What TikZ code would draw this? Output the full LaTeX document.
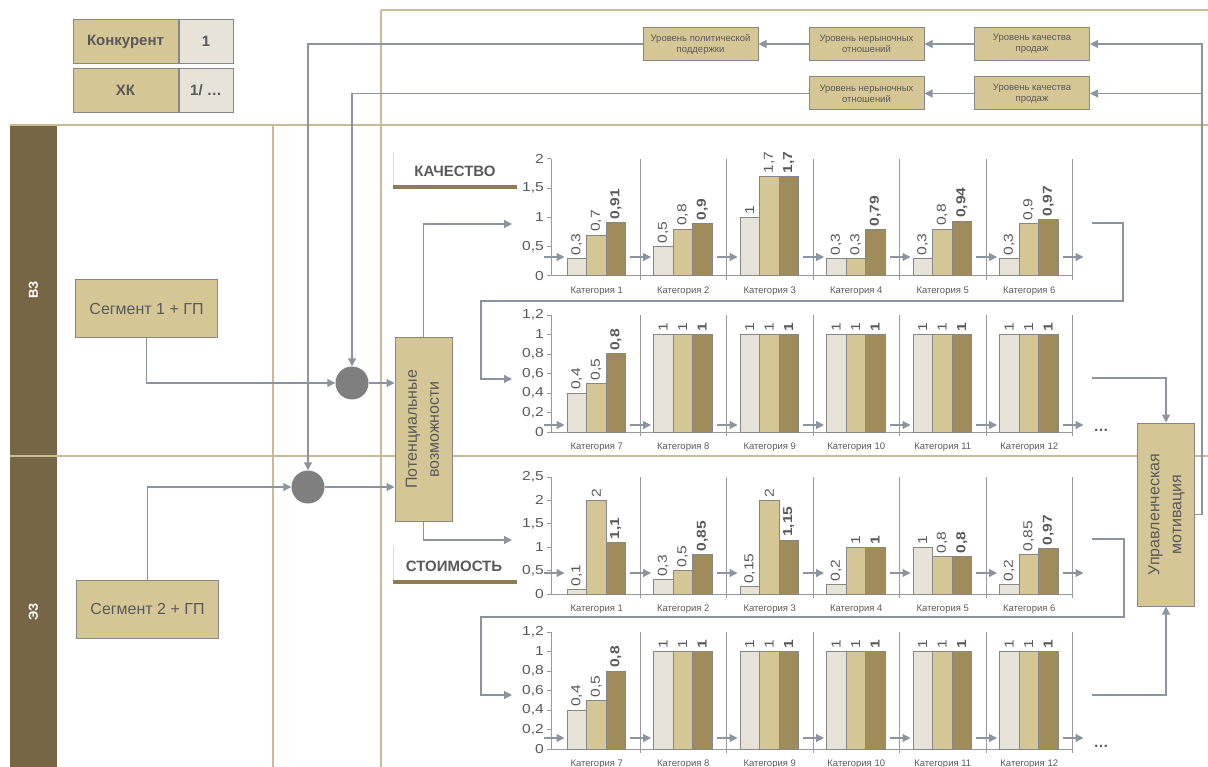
\documentclass[tikz,border=0pt]{standalone}
\usepackage{fontspec}
\setmainfont{Liberation Sans}
\newfontfamily\chartfont[FakeStretch=1.2]{Liberation Sans}
\usepackage{graphicx}
\usetikzlibrary{arrows.meta,positioning}

\definecolor{frameline}{HTML}{C9BB98}
\definecolor{boxfill}{HTML}{D4C795}
\definecolor{lightfill}{HTML}{E7E3D9}
\definecolor{darkfill}{HTML}{A08B5B}
\definecolor{bandfill}{HTML}{776645}
\definecolor{tabfill}{HTML}{8F7C57}
\definecolor{linkgray}{HTML}{8C959F}
\definecolor{boxedge}{HTML}{878787}
\definecolor{axisgray}{HTML}{9A9A9A}
\definecolor{jointfill}{HTML}{7F7F7F}
\definecolor{textgray}{HTML}{595959}

\pgfkeys{/pgf/number format/.cd, use comma, assume math mode=true}

\tikzset{
	every box/.style={
		draw=boxedge,
		fill=boxfill,
		line width=1pt,
		text=textgray,
		align=center,
		inner sep=0pt
	},
	level box/.style={
		every box,
		minimum width=115,
		minimum height=33,
		font=\fontsize{9.5}{11}\selectfont
	},
	legend box/.style={
		every box,
		minimum height=44,
		font=\bfseries\fontsize{15}{16}\selectfont
	},
	segment box/.style={
		every box,
		minimum width=142,
		minimum height=58,
		font=\fontsize{16}{17}\selectfont
	},
	tall box/.style={
		every box,
		minimum width=57,
		minimum height=183,
		font=\fontsize{16}{22}\selectfont
	},
	joint/.style={
		circle,
		fill=jointfill,
		minimum size=33,
		inner sep=0pt
	},
	band label/.style={
		rotate=90,
		text=white,
		font=\bfseries\fontsize{13}{14}\selectfont
	},
	link/.style={draw=linkgray, line width=1.2pt},
	frame/.style={draw=frameline, line width=2pt},
	axis/.style={draw=axisgray, line width=1pt},
	bar 0/.style={draw=boxedge, fill=lightfill, line width=1pt},
	bar 1/.style={draw=boxedge, fill=boxfill, line width=1pt},
	bar 2/.style={draw=boxedge, fill=darkfill, line width=1pt},
	value/.style={
		rotate=90,
		anchor=west,
		inner sep=0pt,
		text=textgray,
		font=\chartfont\fontsize{13}{13}\selectfont
	},
	value 2/.style={font=\chartfont\bfseries\fontsize{13}{13}\selectfont},
	tick label/.style={
		anchor=east,
		inner sep=0pt,
		text=textgray,
		font=\chartfont\fontsize{13}{13}\selectfont
	},
	cat label/.style={inner sep=0pt, text=textgray, font=\fontsize{9.5}{10}\selectfont},
	title/.style={text=textgray, font=\bfseries\fontsize{15}{16}\selectfont},
	tab edge/.style={draw=black!15, line width=1pt},
	tab line/.style={draw=tabfill, line width=3.5pt},
}

\begin{document}
\begin{tikzpicture}[x=1pt, y=-1pt, >={Triangle[length=8pt, width=8pt]}]
\useasboundingbox (0,0) rectangle (1208,767);

% frame lines
\draw[frame] (381,10) -- (1208,10);
\draw[frame] (381,10) -- (381,767);
\draw[frame] (10,125) -- (1208,125);
\draw[frame] (10,456) -- (1208,456);
\draw[frame] (273,125) -- (273,767);

% bands
\fill[bandfill] (10,126) rectangle (57,455);
\fill[bandfill] (10,457) rectangle (57,767);
\node[band label] (vz) at (33.5,290) {ВЗ};
\node[band label] (ez) at (33.5,612) {ЭЗ};

% legend
\node[legend box, minimum width=105] (konk) at (125.5,41.5) {Конкурент};
\node[legend box, fill=lightfill, minimum width=54, right=0pt of konk] (konk-n) {1};
\node[legend box, minimum width=105, below=4pt of konk] (hk) {ХК};
\node[legend box, fill=lightfill, minimum width=54, right=0pt of hk] (hk-n) {1/ …};

% levels
\node[level box] (polit) at (700.5,44) {Уровень политической\\поддержки};
\node[level box] (neryn-a) at (866.5,44) {Уровень нерыночных\\отношений};
\node[level box] (kach-a) at (1032,44) {Уровень качества\\продаж};
\node[level box] (neryn-b) at (866.5,93.5) {Уровень нерыночных\\отношений};
\node[level box] (kach-b) at (1032,93.5) {Уровень качества\\продаж};

% segments and joints
\node[segment box] (seg-a) at (146.5,309) {Сегмент 1 + ГП};
\node[segment box] (seg-b) at (147.5,609) {Сегмент 2 + ГП};
\node[joint] (join-a) at (352,383) {};
\node[joint] (join-b) at (308,487) {};

\node[tall box] (pot) at (423.5,429.5)
	{\rotatebox{90}{\begin{tabular}{@{}c@{}}Потенциальные\\возможности\end{tabular}}};
\node[tall box] (motiv) at (1166,514.5)
	{\rotatebox{90}{\begin{tabular}{@{}c@{}}Управленческая\\мотивация\end{tabular}}};

\coordinate (q1-in) at (512,224);
\coordinate (q1-out) at (1092,223);
\coordinate (q2-in) at (512,379);
\coordinate (q2-out) at (1092,378);
\coordinate (s1-in) at (512,540);
\coordinate (s1-out) at (1092,539);
\coordinate (s2-in) at (512,695);
\coordinate (s2-out) at (1092,695);

% titles
\draw[tab edge] (393,152) -- (393,186);
\draw[tab line] (393,187) -- (517,187);
\node[title] (t-qual) at (455,171) {КАЧЕСТВО};
\draw[tab edge] (393,546) -- (393,581);
\draw[tab line] (393,582) -- (517,582);
\node[title] (t-cost) at (454,566) {СТОИМОСТЬ};

% connectors
\draw[link, ->] (kach-a) -- (neryn-a);
\draw[link, ->] (neryn-a) -- (polit);
\draw[link, ->] (kach-b) -- (neryn-b);
\draw[link, ->] (polit) -| (join-b);
\draw[link, ->] (neryn-b) -| (join-a);
\draw[link, ->] (seg-a) |- (join-a);
\draw[link, ->] (seg-b) |- (join-b);
\draw[link, ->] (join-a) -- (join-a -| pot.west);
\draw[link, ->] (join-b) -- (join-b -| pot.west);
\draw[link, ->] (pot) |- (q1-in);
\draw[link, ->] (pot) |- (s1-in);
\draw[link, ->] (q1-out) -- ++(31,0) -- ++(0,78) -- ++(-642,0) -- ++(0,78) -- (q2-in);
\draw[link, ->] (s1-out) -- ++(32,0) -- ++(0,78) -- ++(-643,0) -- ++(0,78) -- (s2-in);
\draw[link, ->] (q2-out) -| (motiv);
\draw[link, ->] (s2-out) -| (motiv);
\draw[link, ->] (motiv.east) -- ++(7,0) |- (kach-a);
\draw[link, ->] (motiv.east) ++(7,0) |- (kach-b);

% charts
\foreach \zy/\ys/\n/\step/\ay/\first/\vals in {
	276/58.5/4/0.5/257/1/{0.3/0.7/0.91, 0.5/0.8/0.9, 1/1.7/1.7, 0.3/0.3/0.79, 0.3/0.8/0.94, 0.3/0.9/0.97},
	432/97.5/6/0.2/425/7/{0.4/0.5/0.8, 1/1/1, 1/1/1, 1/1/1, 1/1/1, 1/1/1},
	594/46.8/5/0.5/573/1/{0.1/2/1.1, 0.3/0.5/0.85, 0.15/2/1.15, 0.2/1/1, 1/0.8/0.8, 0.2/0.85/0.97},
	749/97.5/6/0.2/738/7/{0.4/0.5/0.8, 1/1/1, 1/1/1, 1/1/1, 1/1/1, 1/1/1}} {
	\draw[axis] (551,\zy-117) -- (551,\zy) -- (1073,\zy);
	\foreach \k in {0,...,\n} {
		\pgfmathsetmacro\ty{\zy-\k*\step*\ys}
		\pgfmathsetmacro\tv{\k*\step}
		\draw[axis] (547,\ty) -- (551,\ty);
		\node[tick label] (tick-\zy-\k) at (544,\ty) {\pgfmathprintnumber{\tv}};
	}
	\foreach \k in {1,...,6}
		\draw[axis] (553.5+\k*86.5,\zy-117) -- (553.5+\k*86.5,\zy+4);
	\foreach \a/\b/\c [count=\i] in \vals {
		\pgfmathsetmacro\L{553.5+(\i-1)*86.5}
		\pgfmathtruncatemacro\cat{\first+\i-1}
		\foreach \v [count=\j from 0] in {\a,\b,\c} {
			\draw[bar \j] (\L+13.5+\j*19.5,\zy) rectangle ++(19.5,-\v*\ys);
			\node[value, value \j/.try] (val-\cat-\zy-\j) at (\L+23.25+\j*19.5,\zy-\v*\ys-3)
				{\pgfmathprintnumber{\v}};
		}
		\node[cat label] (cat-\zy-\i) at (\L+43.25,\zy+15) {Категория \cat};
	}
	\foreach \k in {0,...,6}
		\draw[link, ->] (543.5+\k*86.5,\ay) -- ++(21,0);
}

\node[title] (more-q) at (1101,430) {…};
\node[title] (more-s) at (1101,746) {…};

\end{tikzpicture}
\end{document}
